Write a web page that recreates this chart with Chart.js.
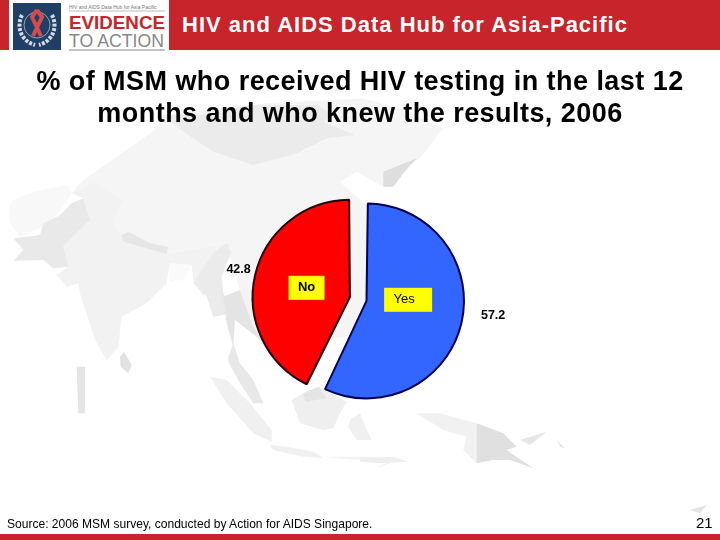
<!DOCTYPE html>
<html>
<head>
<meta charset="utf-8">
<title>HIV testing among MSM</title>
<script src="https://cdn.jsdelivr.net/npm/chart.js@4"></script>
<style>
    html, body { margin: 0; padding: 0; background: #fff; }
    #slide { position: relative; width: 720px; height: 540px; overflow: hidden; font-family: "Liberation Sans", Arial, sans-serif; }
    #slide > * { position: absolute; }
    #map { left: 0; top: 0; }
    #chart { left: 0; top: 0; width: 720px; height: 540px; }
    .red { background: #c8242b; }
    #hub { left: 182px; top: 11px; color: #fff; font-weight: bold; font-size: 22px; letter-spacing: 1px; line-height: 28px; white-space: nowrap; }
    #title { left: 0; width: 720px; top: 65px; text-align: center; font-weight: bold; font-size: 27px; letter-spacing: 0.45px; line-height: 32px; color: #000; }
    #source { left: 7px; top: 517px; font-size: 12.05px; line-height: 15px; color: #000; white-space: nowrap; }
    #page { left: 696px; top: 514px; font-size: 15px; line-height: 18px; color: #000; }
</style>
</head>
<body>
<div id="slide">
    <!-- faded map behind the pie -->
    <svg id="map" width="720" height="540">
        <g transform="translate(0 180) scale(0.3333)" stroke="none" stroke-linejoin="round">
            <path fill="#f5f5f5" d="M215 40L250 0L465 -150L490 -195L800 -230L1090 -245L1200 -215L1330 -155L1260 -66L1150 20L1070 -25L1020 6L1100 75L1110 360L1040 470L810 500L720 330L690 230L690 190L600 205L510 220L440 195L365 170L340 125L370 60L280 5Z"/>
            <path fill="#f8f8f8" d="M25 90L40 60L100 35L200 15L215 40L175 100L120 145L60 170L30 130Z"/>
            <path fill="#f2f2f2" d="M215 40L280 5L370 60L340 125L365 170L440 195L510 220L600 205L690 190L690 230L640 280L610 350L580 300L575 255L510 250L500 310L440 370L365 410L355 500L320 540L285 480L240 340L235 310L200 320L170 285L205 260L190 200L270 120L250 55Z"/>
            <path fill="#e9e9e9" d="M215 70L250 55L270 120L190 200L205 260L160 265L130 240L40 242L70 210L40 175L120 165L130 130L180 105Z"/>
            <path fill="#e6e6e6" d="M365 165L385 155L450 190L505 200L500 222L440 205L370 185Z"/>
            <path fill="#fafafa" d="M510 250L575 255L550 300L510 305Z"/>
            <path fill="#ebebeb" d="M580 310L640 220L680 190L692 220L665 290L670 340L700 400L640 410L620 350Z"/>
            <path fill="#f3f3f3" d="M720 330L770 300L810 500L760 440Z"/>
            <path fill="#e4e4e4" d="M670 350L720 330L760 440L800 500L770 470L705 420L700 500L680 430Z"/>
            <path fill="#e2e2e2" d="M360 530L372 515L395 555L385 580L362 560Z"/>
            <path fill="#e4e4e4" d="M230 560L255 560L255 700L235 700Z"/>
        </g>
        <g transform="translate(150 95) scale(0.3333)" stroke="none">
            <path fill="#ebebeb" d="M40 60L100 110L190 170L310 210L440 175L530 130L615 120L520 80L550 60L500 30L300 30L150 60Z"/>
            <path fill="#dedede" d="M700 230L800 190L760 235L730 275L700 275Z"/>
        </g>
        <g transform="translate(190 340) scale(0.3333)" stroke="none">
            <path fill="#e8e8e8" d="M115 50L130 10L150 70L190 120L220 190L190 190L150 130L115 65Z"/>
            <path fill="#f0f0f0" d="M60 110L110 120L180 190L245 270L245 305L190 280L110 190Z"/>
            <path fill="#efefef" d="M305 180L340 160L385 140L410 150L470 185L450 220L430 265L400 270L330 250Z"/>
            <path fill="#e4e4e4" d="M340 160L385 140L410 175L345 185Z"/>
            <path fill="#f0f0f0" d="M480 240L510 220L530 270L545 300L500 300L475 260Z"/>
            <path fill="#f0f0f0" d="M240 315L290 320L370 335L400 355L340 350L250 330Z"/>
            <path fill="#f2f2f2" d="M400 350L580 350L500 360Z"/>
            <path fill="#f2f2f2" d="M555 385L620 355L600 370Z"/>
        </g>
        <g transform="translate(360 130) scale(0.3333)" stroke="none">
            <path fill="#f1f1f1" d="M170 850L240 850L350 880L350 1000L310 960L320 920L250 900Z"/>
            <path fill="#e0e0e0" d="M350 880L430 910L470 950L440 960L520 1015L450 990L400 990L350 1000Z"/>
            <path fill="#e6e6e6" d="M480 930L560 905L510 945Z"/>
            <path fill="#e6e6e6" d="M590 930L615 955L600 950Z"/>
            <path fill="#eeeeee" d="M0 985L100 980L145 995L60 1000L0 995Z"/>
            <path fill="#e4e4e4" d="M990 1140L1040 1125L1020 1150Z"/>
        </g>
    </svg>

    <div class="red" style="left:0;top:0;width:9px;height:50px"></div>
    <div class="red" style="left:169px;top:0;width:551px;height:50px"></div>
    <div class="red" style="left:0;top:534px;width:720px;height:6px"></div>
    <div id="hub">HIV and AIDS Data Hub for Asia-Pacific</div>

    <!-- logo -->
    <svg style="left:13px;top:3px" width="153" height="48">
        <rect x="0" y="0" width="48" height="47" fill="#1f3f66"/>
        <path d="M9 12C3 24 8 38 22 42M39 12C45 24 40 38 26 42" fill="none" stroke="#d5dbe3" stroke-width="4" stroke-dasharray="3 1.5"/>
        <circle cx="24" cy="22" r="13" fill="none" stroke="#8fa3ba" stroke-width="1"/>
        <path d="M24 7L29 14L20 33M24 7L19 14L28 33" fill="none" stroke="#d84a4a" stroke-width="4"/>
        <text x="56" y="6" font-size="5" fill="#777">HIV and AIDS Data Hub for Asia Pacific</text>
        <text x="56" y="26" font-size="19" font-weight="bold" fill="#c8242b" textLength="96" lengthAdjust="spacingAndGlyphs">EVIDENCE</text>
        <text x="56" y="44" font-size="18" fill="#888" textLength="95" lengthAdjust="spacingAndGlyphs">TO ACTION</text>
        <line x1="56" y1="47" x2="152" y2="47" stroke="#888" stroke-width="1"/>
        <line x1="56" y1="8" x2="152" y2="8" stroke="#bbb" stroke-width="1"/>
    </svg>

    <canvas id="chart" width="720" height="540"></canvas>

    <div id="title">% of MSM who received HIV testing in the last 12<br>months and who knew the results, 2006</div>
    <div id="source">Source: 2006 MSM survey, conducted by Action for AIDS Singapore.</div>
    <div id="page">21</div>
</div>

<script>
// Chart data
const categories = ['Yes', 'No'];
const percents = [57.2, 42.8];
const sliceColors = ['#3366ff', '#ff0000'];
const edgeColors = ['#000050', '#200000'];

// Label boxes are placed relative to each slice's centre point
const nameShift = [[-10, -13], [10, 3]];
const nameBoxW = [48, 36];
const nameFont = ['13px "Liberation Sans"', 'bold 13px "Liberation Sans"'];
const valueShift = [[75, 3], [-58, -15]];

const pieLabels = {
    id: 'pieLabels',
    afterDatasetsUpdate(chart) {
        // an exploded slice under 180 degrees gets less radius than the big one, even them out
        chart.getDatasetMeta(0).data[1].outerRadius += 3.5;
    },
    afterDatasetsDraw(chart) {
        const ctx = chart.ctx;
        chart.getDatasetMeta(0).data.forEach((arc, i) => {
            const c = arc.getCenterPoint();
            const nx = c.x + nameShift[i][0];
            const ny = c.y + nameShift[i][1];
            ctx.save();
            ctx.fillStyle = '#ffff00';
            ctx.fillRect(nx - nameBoxW[i] / 2, ny - 12, nameBoxW[i], 24);
            ctx.fillStyle = '#000';
            ctx.font = nameFont[i];
            ctx.textAlign = 'center';
            ctx.textBaseline = 'middle';
            ctx.fillText(categories[i], nx - (i === 0 ? 4 : 0), ny);
            ctx.font = 'bold 12.5px "Liberation Sans"';
            ctx.fillText(percents[i].toFixed(1), c.x + valueShift[i][0], c.y + valueShift[i][1]);
            ctx.restore();
        });
    }
};

new Chart(document.getElementById('chart').getContext('2d'), {
    type: 'pie',
    data: {
        labels: categories,
        datasets: [{
            data: percents,
            backgroundColor: sliceColors,
            borderColor: edgeColors,
            borderWidth: 2,
            offset: 34
        }]
    },
    options: {
        responsive: false,
        animation: false,
        events: [],
        radius: 89,
        layout: { padding: { top: 58, right: 3.6 } },
        plugins: {
            legend: { display: false },
            title: { display: false },
            tooltip: { enabled: false }
        }
    },
    plugins: [pieLabels]
});
</script>
</body>
</html>
